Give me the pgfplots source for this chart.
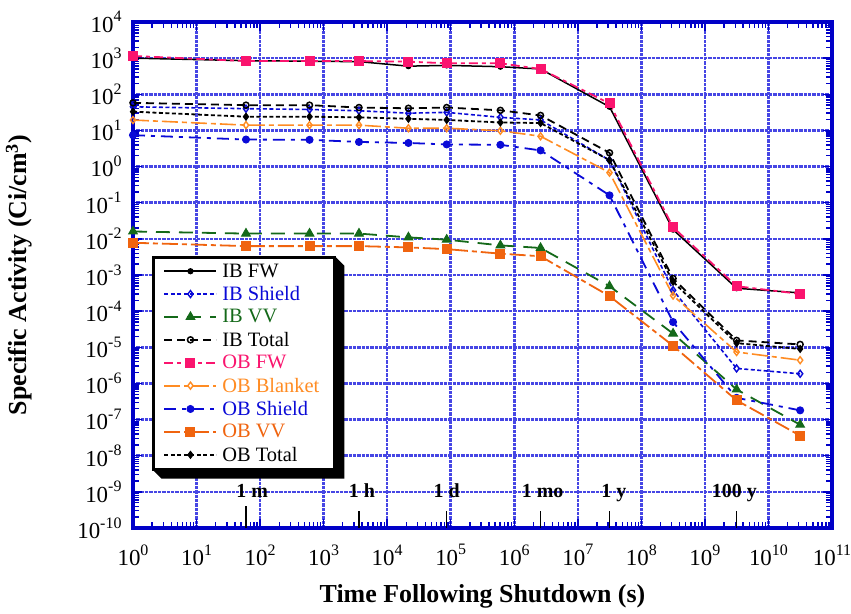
\documentclass[border=0pt]{standalone}
\usepackage{pgfplots}
\pgfplotsset{compat=1.18}
\usepackage{fontspec}
\setmainfont{Liberation Serif}
\definecolor{cBlue}{RGB}{10,10,215}
\definecolor{cFrame}{RGB}{0,0,200}
\definecolor{cGrid}{RGB}{70,70,228}
\definecolor{cGreen}{RGB}{20,105,25}
\definecolor{cPink}{RGB}{250,20,110}
\definecolor{cOrange}{RGB}{255,140,35}
\definecolor{cOrangeD}{RGB}{240,100,15}
\newcommand{\tp}[1]{{\fontsize{23}{24}\selectfont 10\raisebox{0.45em}{\fontsize{16}{16}\selectfont #1}}}
\begin{document}
\begin{tikzpicture}
\begin{loglogaxis}[
  scale only axis, width=699bp, height=506bp,
  xmin=1, xmax=1e11, ymin=1e-10, ymax=1e4,
  xtick={1,10,100,1e3,1e4,1e5,1e6,1e7,1e8,1e9,1e10,1e11},
  xticklabels={\tp{0},\tp{1},\tp{2},\tp{3},\tp{4},\tp{5},\tp{6},\tp{7},\tp{8},\tp{9},\tp{10},\tp{11}},
  ytick={1e-10,1e-9,1e-8,1e-7,1e-6,1e-5,1e-4,1e-3,1e-2,1e-1,1,10,100,1e3,1e4},
  yticklabels={\tp{-10},\tp{-9},\tp{-8},\tp{-7},\tp{-6},\tp{-5},\tp{-4},\tp{-3},\tp{-2},\tp{-1},\tp{0},\tp{1},\tp{2},\tp{3},\tp{4}},
  grid=major,
  major grid style={cGrid, line width=2.6bp, dash pattern=on 0.8bp off 0.5bp},
  axis line style={cFrame, line width=3.5bp},
  tick style={cFrame, line width=1.4bp},
  major tick length=9bp, minor tick length=6bp,
  tick label style={font=\fontsize{23}{24}\selectfont},
  xticklabel style={yshift=-13bp},
  yticklabel style={xshift=-8bp},
  xlabel={\bfseries Time Following Shutdown (s)},
  ylabel={\bfseries Specific Activity (Ci/cm\textsuperscript{3})},
  label style={font=\fontsize{26}{28}\selectfont},
  xlabel style={at={(axis description cs:0.5,-0.136)},anchor=center},
  ylabel style={at={(axis description cs:-0.163,0.5)},anchor=center},
  legend style={name=leg, at={(axis description cs:0.028,0.536)}, anchor=north west, draw=black, line width=2bp, fill=white,
    font=\fontsize{20.5}{22}\selectfont, row sep=5.6bp, inner xsep=10bp, inner ysep=5bp,
    nodes={inner ysep=1bp, inner xsep=5bp}},
  legend cell align=left,
  legend image code/.code={\draw[mark repeat=2,mark phase=2,#1] plot coordinates {(0bp,0bp)(26bp,0bp)(52bp,0bp)};},
]
% IB FW
\addplot[black, solid, line width=1.5bp, mark=*, mark size=2.6bp, mark options={line width=1bp}] coordinates {
(1,1000)(60,850)(600,820)(3600,800)(21600,600)(86400,630)(604800,580)(2592000,500)(3.1536e7,45)(3.1536e8,0.018)(3.1536e9,4.3e-4)(3.1536e10,3.2e-4)};
\addlegendentry{IB FW}
% IB Shield
\addplot[cBlue, line width=1.6bp, dash pattern=on 4bp off 2.5bp, mark=diamond, mark size=3.5bp, mark options={solid, fill=white, line width=1.4bp}] coordinates {
(1,45)(60,40)(600,38)(3600,35)(21600,30)(86400,31.6)(604800,23)(2592000,19.5)(3.1536e7,1.5)(3.1536e8,3.8e-4)(3.1536e9,2.6e-6)(3.1536e10,1.85e-6)};
\addlegendentry{\textcolor{cBlue}{IB Shield}}
% IB VV
\addplot[cGreen, line width=1.8bp, dash pattern=on 14bp off 9bp, mark=triangle*, mark size=5bp, mark options={solid, line width=1bp}] coordinates {
(1,0.016)(60,0.014)(600,0.014)(3600,0.014)(21600,0.011)(86400,0.0095)(604800,0.0066)(2592000,0.0056)(3.1536e7,4.9e-4)(3.1536e8,2.4e-5)(3.1536e9,6.8e-7)(3.1536e10,7.2e-8)};
\addlegendentry{\textcolor{cGreen}{IB VV}}
% IB Total
\addplot[black, line width=1.8bp, dash pattern=on 8bp off 5bp, mark=o, mark size=3bp, mark options={solid, line width=1.5bp}] coordinates {
(1,58)(60,50)(600,50)(3600,43)(21600,41)(86400,43)(604800,36)(2592000,26)(3.1536e7,2.4)(3.1536e8,8e-4)(3.1536e9,1.55e-5)(3.1536e10,1.2e-5)};
\addlegendentry{IB Total}
% OB FW
\addplot[cPink, line width=1.8bp, dash pattern=on 9bp off 4bp on 4bp off 4bp, mark=square*, mark size=4.5bp, mark options={solid, line width=1bp}] coordinates {
(1,1150)(60,830)(600,830)(3600,830)(21600,800)(86400,720)(604800,720)(2592000,500)(3.1536e7,56)(3.1536e8,0.021)(3.1536e9,4.9e-4)(3.1536e10,3e-4)};
\addlegendentry{\textcolor{cPink}{OB FW}}
% OB Blanket
\addplot[cOrange, line width=1.6bp, dash pattern=on 16bp off 4bp on 5bp off 4bp, mark=diamond, mark size=3.5bp, mark options={solid, fill=white, line width=1.4bp}] coordinates {
(1,19.4)(60,14)(600,14)(3600,14)(21600,11.5)(86400,11.5)(604800,9.8)(2592000,6.9)(3.1536e7,0.68)(3.1536e8,2.7e-4)(3.1536e9,7.4e-6)(3.1536e10,4.4e-6)};
\addlegendentry{\textcolor{cOrange}{OB Blanket}}
% OB Shield
\addplot[cBlue, line width=1.8bp, dash pattern=on 12bp off 6bp on 4bp off 6bp, mark=*, mark size=3.5bp, mark options={solid, line width=1bp}] coordinates {
(1,7.4)(60,5.6)(600,5.5)(3600,4.8)(21600,4.5)(86400,4.1)(604800,4.0)(2592000,2.8)(3.1536e7,0.16)(3.1536e8,5e-5)(3.1536e9,4e-7)(3.1536e10,1.8e-7)};
\addlegendentry{\textcolor{cBlue}{OB Shield}}
% OB VV
\addplot[cOrangeD, line width=1.8bp, dash pattern=on 16bp off 4bp on 5bp off 4bp, mark=square*, mark size=4.5bp, mark options={solid, line width=1bp}] coordinates {
(1,0.0078)(60,0.0063)(600,0.0063)(3600,0.0063)(21600,0.0058)(86400,0.0052)(604800,0.0039)(2592000,0.0033)(3.1536e7,2.6e-4)(3.1536e8,1.1e-5)(3.1536e9,3.4e-7)(3.1536e10,3.6e-8)};
\addlegendentry{\textcolor{cOrangeD}{OB VV}}
% OB Total
\addplot[black, line width=1.8bp, dash pattern=on 4bp off 2.5bp, mark=diamond*, mark size=3.5bp, mark options={solid, line width=1bp}] coordinates {
(1,33)(60,24)(600,24)(3600,23)(21600,21)(86400,19.5)(604800,16.6)(2592000,16)(3.1536e7,1.5)(3.1536e8,6.5e-4)(3.1536e9,1.3e-5)(3.1536e10,9e-6)};
\addlegendentry{OB Total}
% time markers
\addplot[black, line width=1.3bp, forget plot] coordinates {(60,1e-10)(60,4e-10)};
\addplot[black, line width=1.3bp, forget plot] coordinates {(3600,1e-10)(3600,3e-10)};
\addplot[black, line width=1.3bp, forget plot] coordinates {(86400,1e-10)(86400,3e-10)};
\addplot[black, line width=1.3bp, forget plot] coordinates {(2592000,1e-10)(2592000,3e-10)};
\addplot[black, line width=1.3bp, forget plot] coordinates {(3.1536e7,1e-10)(3.1536e7,3e-10)};
\addplot[black, line width=1.3bp, forget plot] coordinates {(3.1536e9,1e-10)(3.1536e9,3e-10)};
\node[font=\fontsize{20}{20}\selectfont\bfseries, anchor=base] at (axis cs:75,7e-10) {1 m};
\node[font=\fontsize{20}{20}\selectfont\bfseries, anchor=base] at (axis cs:4000,7e-10) {1 h};
\node[font=\fontsize{20}{20}\selectfont\bfseries, anchor=base] at (axis cs:86400,7e-10) {1 d};
\node[font=\fontsize{20}{20}\selectfont\bfseries, anchor=base] at (axis cs:2.8e6,7e-10) {1 mo};
\node[font=\fontsize{20}{20}\selectfont\bfseries, anchor=base] at (axis cs:3.7e7,7e-10) {1 y};
\node[font=\fontsize{20}{20}\selectfont\bfseries, anchor=base] at (axis cs:2.9e9,7e-10) {100 y};
\end{loglogaxis}
\fill[black] (leg.north east) -- ++(9bp,-9bp) -- ([shift={(9bp,-9bp)}]leg.south east) -- ([shift={(9bp,-9bp)}]leg.south west) -- (leg.south west) -- (leg.south east) -- cycle;
\draw[black, line width=2bp] (leg.south west) rectangle (leg.north east);
\pgfresetboundingbox
\path (current axis.south west) ++(-133bp,-86bp) rectangle ++(851bp,614bp);
\end{tikzpicture}
\end{document}
